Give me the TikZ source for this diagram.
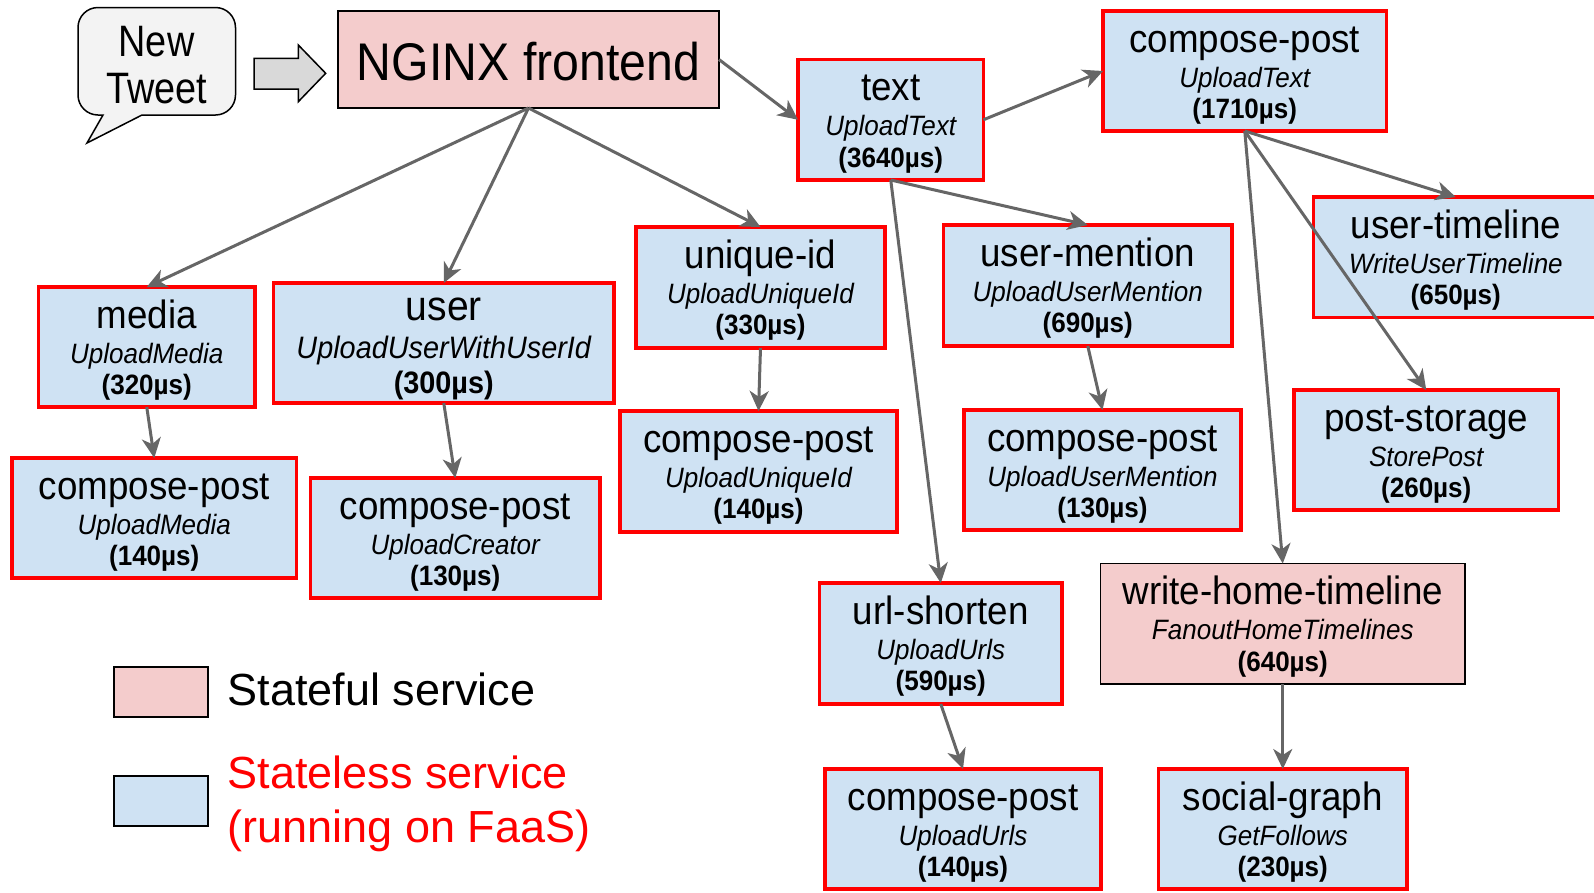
\documentclass[tikz,border=0pt]{standalone}
\usepackage{fontspec}
\setmainfont{Liberation Sans}
\newfontfamily\bxf[FakeStretch=0.93]{Liberation Sans}
\newfontfamily\ngf[FakeStretch=0.91]{Liberation Sans}
\newfontfamily\twf[FakeStretch=0.86]{Liberation Sans}
\usetikzlibrary{arrows.meta,fit,calc}
\definecolor{pinkfill}{HTML}{F4CCCC}
\definecolor{bluefill}{HTML}{CFE2F3}
\definecolor{redline}{HTML}{FF0000}
\definecolor{arrowgray}{HTML}{666666}
\definecolor{bubblefill}{HTML}{F3F3F3}
\definecolor{blockfill}{HTML}{D9D9D9}
\tikzset{
  stateless/.style={draw=redline, line width=3.5pt, fill=bluefill, inner sep=0pt, outer sep=0pt},
  stateful/.style={draw=black, line width=1.5pt, fill=pinkfill, inner sep=0pt, outer sep=0pt},
  svtitle/.style={anchor=base, inner sep=0pt, font=\bxf\fontsize{39.5}{42}\selectfont},
  svsub/.style={anchor=base, inner sep=0pt, font=\bxf\itshape\fontsize{28}{30}\selectfont},
  svtime/.style={anchor=base, inner sep=0pt, font=\bxf\bfseries\fontsize{28}{30}\selectfont},
  legendtext/.style={anchor=base west, inner sep=0pt, font=\fontsize{45}{54}\selectfont},
  conn/.style={draw=arrowgray, line width=3pt, -{Stealth[length=20pt,width=19pt,inset=6pt]}},
}
\newcommand\svc[9]{%
  \coordinate (#1nw) at (#3,#4);
  \coordinate (#1se) at (#5,#6);
  \node[#2, fit=(#1nw)(#1se)] (#1) {};
  \node[svtitle] (#1t) at ($(#1.north)+(0,41)$) {#7};
  \node[svsub] (#1s) at ($(#1.north)+(0,76)$) {#8};
  \node[svtime] (#1m) at ($(#1.north)+(0,107.5)$) {#9};
}
\begin{document}
\begin{tikzpicture}[x=1pt,y=-1pt]
\useasboundingbox (0,0) rectangle (1594,892);
\clip (0,0) rectangle (1594,892);

% speech bubble
\draw[line width=1.5pt, fill=bubblefill] (103,115) -- (87,143) -- (142,115)
  [rounded corners=20pt] -- (235.5,115) -- (235.5,7.5) -- (78,7.5) -- (78,115) [sharp corners] -- cycle;
\node[anchor=base, inner sep=0pt, font=\twf\fontsize{44}{47}\selectfont] (tweet) at (156.5,56) {New};
\node[anchor=base, inner sep=0pt, font=\twf\fontsize{44}{47}\selectfont] (tweet2) at (156.5,103) {Tweet};

% block arrow
\draw[line width=1.5pt, fill=blockfill] (254,58.3) -- (298.3,58.3) -- (298.3,45) -- (325.7,73.3)
  -- (298.3,101.7) -- (298.3,89) -- (254,89) -- cycle;

% NGINX
\coordinate (nginxnw) at (338,11);
\coordinate (nginxse) at (719,108);
\node[stateful, fit=(nginxnw)(nginxse)] (nginx) {};
\node[anchor=base, inner sep=0pt, font=\ngf\fontsize{53}{56}\selectfont] (nginxt) at ($(nginx.north)+(0,69)$) {NGINX frontend};

\svc{text}{stateless}{798}{59.5}{983.5}{180}{text}{UploadText}{(3640µs)}
\svc{cpt}{stateless}{1103}{11}{1386.5}{131}{compose-post}{UploadText}{(1710µs)}
\svc{ut}{stateless}{1313.5}{197}{1598}{317.5}{user-timeline}{WriteUserTimeline}{(650µs)}
\svc{uid}{stateless}{636}{227}{885}{348}{unique-id}{UploadUniqueId}{(330µs)}
\svc{um}{stateless}{943.5}{225}{1232}{346}{user-mention}{UploadUserMention}{(690µs)}
\svc{media}{stateless}{38.5}{287}{255}{407}{media}{UploadMedia}{(320µs)}

% user box (slightly larger text)
\coordinate (usernw) at (273.5,283);
\coordinate (userse) at (614,403);
\node[stateless, fit=(usernw)(userse)] (user) {};
\node[svtitle, font=\bxf\fontsize{42}{44}\selectfont] (usert) at ($(user.north)+(0,37.5)$) {user};
\node[svsub, font=\bxf\itshape\fontsize{31}{33}\selectfont] (users) at ($(user.north)+(0,75)$) {UploadUserWithUserId};
\node[svtime, font=\bxf\bfseries\fontsize{31}{33}\selectfont] (userm) at ($(user.north)+(0,110.5)$) {(300µs)};

\svc{cpm}{stateless}{12}{458}{296.5}{578}{compose-post}{UploadMedia}{(140µs)}
\svc{cpc}{stateless}{310.5}{478}{600}{598}{compose-post}{UploadCreator}{(130µs)}
\svc{cpu}{stateless}{620}{411}{897}{532}{compose-post}{UploadUniqueId}{(140µs)}
\svc{cpum}{stateless}{964}{410}{1241}{530}{compose-post}{UploadUserMention}{(130µs)}
\svc{ps}{stateless}{1294}{390}{1558.5}{510}{post-storage}{StorePost}{(260µs)}
\svc{us}{stateless}{819.5}{583}{1062}{704}{url-shorten}{UploadUrls}{(590µs)}
\svc{whtl}{stateful}{1100.5}{563.5}{1465}{684}{write-home-timeline}{FanoutHomeTimelines}{(640µs)}
\svc{cpurl}{stateless}{825}{769}{1101}{889}{compose-post}{UploadUrls}{(140µs)}
\svc{sg}{stateless}{1158.5}{769}{1407}{889}{social-graph}{GetFollows}{(230µs)}

% connectors
\draw[conn] (nginx.east) -- (text.west);
\draw[conn] (text.east) -- (cpt.west);
\draw[conn] (nginx.south) -- (media.north);
\draw[conn] (nginx.south) -- (user.north);
\draw[conn] (nginx.south) -- (uid.north);
\draw[conn] (text.south) -- (um.north);
\draw[conn] (text.south) -- (us.north);
\draw[conn] (cpt.south) -- (ut.north);
\draw[conn] (cpt.south) -- (ps.north);
\draw[conn] (cpt.south) -- (whtl.north);
\draw[conn] (media.south) -- (cpm.north);
\draw[conn] (user.south) -- (cpc.north);
\draw[conn] (uid.south) -- (cpu.north);
\draw[conn] (um.south) -- (cpum.north);
\draw[conn] (us.south) -- (cpurl.north);
\draw[conn] (whtl.south) -- (sg.north);

% legend
\coordinate (lg1nw) at (114,667);
\coordinate (lg1se) at (207.5,717);
\node[stateful, line width=2pt, fit=(lg1nw)(lg1se)] (lg1) {};
\coordinate (lg2nw) at (114,776);
\coordinate (lg2se) at (207.5,825.5);
\node[draw=black, line width=2pt, fill=bluefill, inner sep=0pt, outer sep=0pt, fit=(lg2nw)(lg2se)] (lg2) {};
\node[legendtext] (lg1t) at (227.5,705) {Stateful service};
\node[legendtext, text=redline] (lg2t) at (227.5,788.3) {Stateless service};
\node[legendtext, text=redline] (lg2u) at (227.5,842) {(running on FaaS)};
\end{tikzpicture}
\end{document}
